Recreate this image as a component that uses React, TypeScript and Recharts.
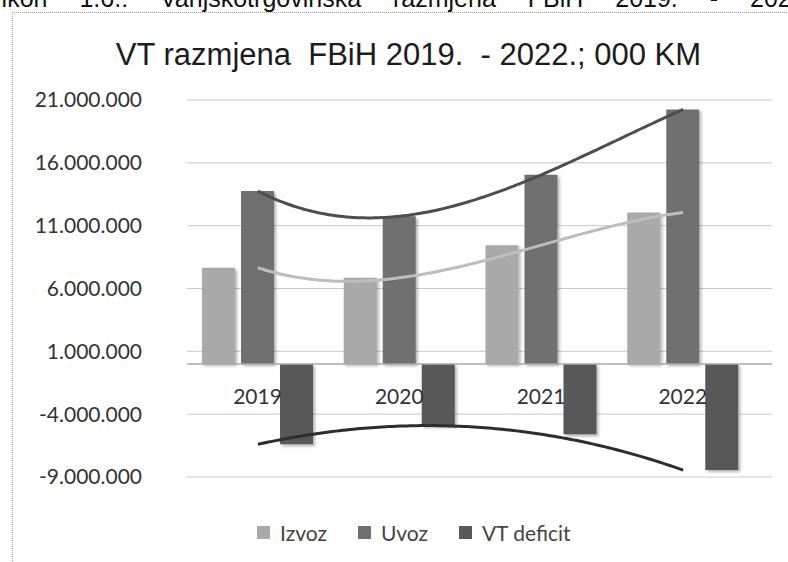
import { ComposedChart, Bar, Line, XAxis, YAxis, CartesianGrid, ReferenceLine, LabelList } from 'recharts'

// vanjskotrgovinska razmjena FBiH, 000 KM
const years = ['2019', '2020', '2021', '2022']
const izvoz = [7650000, 6850000, 9450000, 12050000]
const uvoz = [13750000, 11750000, 15050000, 20250000]
const deficit = [-6400000, -4950000, -5600000, -8450000]
const yTicks = [-9000000, -4000000, 1000000, 6000000, 11000000, 16000000, 21000000]

const seriesNames = ['Izvoz', 'Uvoz', 'VT deficit']
const barColors = ['#a9a9a9', '#707070', '#585858']
const trendColors = ['#bdbdbd', '#4e4e4e', '#2d2d2d']

const data = years.map((year, i) => ({ year, izvoz: izvoz[i], uvoz: uvoz[i], deficit: deficit[i] }))

const fmt = (v: number) => (v < 0 ? '-' : '') + Math.abs(v).toString().replace(/\B(?=(\d{3})+(?!\d))/g, '.')

// Excel-style polynomial trendline (order 3 goes through all 4 points)
const polyCurve = (context: any) => {
  let px: number[] = []
  let py: number[] = []
  return {
    areaStart() {},
    areaEnd() {},
    lineStart() { px = []; py = [] },
    point(x: number, y: number) { px.push(+x); py.push(+y) },
    lineEnd() {
      const n = px.length
      if (!n) return
      const steps = 40 * Math.max(1, n - 1)
      for (let s = 0; s <= steps; s++) {
        const x = px[0] + ((px[n - 1] - px[0]) * s) / steps
        let y = 0
        for (let i = 0; i < n; i++) {
          let l = 1
          for (let j = 0; j < n; j++) if (j !== i) l *= (x - px[j]) / (px[i] - px[j])
          y += py[i] * l
        }
        if (s === 0) context.moveTo(x, y)
        else context.lineTo(x, y)
      }
    },
  }
}

const YearLabel = (props: any) => {
  const vb = props.viewBox ?? props
  const x = vb.x ?? props.x
  const y = vb.y ?? props.y
  const w = vb.width ?? props.width
  const h = vb.height ?? props.height
  return (
    <text x={x + w / 2} y={y + h + 40} textAnchor="middle" fontFamily="Lato" fontSize={21} fill="#333">
      {props.value}
    </text>
  )
}

export default function App() {
  return (
    <div style={{ position: 'absolute', left: 0, top: 0, width: 788, height: 562, overflow: 'hidden', background: '#fff' }}>
      <style>{`.vt-bar .recharts-rectangle { filter: url(#barShadow); }`}</style>
      <div style={{ position: 'absolute', left: 12, top: 12, width: 900, height: 700, borderTop: '1px dotted #999', borderLeft: '1px dotted #999' }} />
      <svg width={788} height={562} style={{ position: 'absolute', left: 0, top: 0 }}>
        <text x={-47} y={6.5} fontFamily="Liberation Sans" fontSize={25} wordSpacing={25} fill="#111" style={{ whiteSpace: 'pre' }}>
          Grafikon 1.6.: Vanjskotrgovinska razmjena FBiH 2019. - 2022. godine
        </text>
        <text x={408.5} y={65} textAnchor="middle" fontFamily="Liberation Sans" fontSize={31} fill="#1c1c1c" style={{ whiteSpace: 'pre' }}>
          VT razmjena  FBiH 2019.  - 2022.; 000 KM
        </text>
      </svg>
      <div style={{ position: 'absolute', left: 0, top: 0 }}>
        <ComposedChart width={788} height={562} data={data} margin={{ top: 100, right: 16, bottom: 85, left: 12 }} barSize={33} barGap={6}>
          <defs>
            <filter id="barShadow" x="-20%" y="-10%" width="150%" height="130%">
              <feDropShadow dx="2" dy="2" stdDeviation="1.5" floodColor="#000" floodOpacity="0.3" />
            </filter>
          </defs>
          <CartesianGrid vertical={false} stroke="#c9c9c9" />
          <XAxis dataKey="year" hide padding={{ left: 0, right: 18 }} />
          <YAxis
            width={175}
            domain={[-9000000, 21000000]}
            ticks={yTicks}
            tickFormatter={fmt}
            axisLine={false}
            tickLine={false}
            tickSize={0}
            tickMargin={45}
            tick={{ fontSize: 21, fontFamily: 'Lato', fill: '#333' }}
            interval={0}
          />
          <ReferenceLine y={0} stroke="#a8a8a8" strokeWidth={1.5} />
          <Bar className="vt-bar" dataKey="izvoz" name={seriesNames[0]} fill={barColors[0]} isAnimationActive={false} />
          <Bar className="vt-bar" dataKey="uvoz" name={seriesNames[1]} fill={barColors[1]} isAnimationActive={false}>
            <LabelList dataKey="year" content={YearLabel} />
          </Bar>
          <Bar className="vt-bar" dataKey="deficit" name={seriesNames[2]} fill={barColors[2]} isAnimationActive={false} />
          <Line dataKey="izvoz" type={polyCurve as any} stroke={trendColors[0]} strokeWidth={3} dot={false} activeDot={false} legendType="none" isAnimationActive={false} />
          <Line dataKey="uvoz" type={polyCurve as any} stroke={trendColors[1]} strokeWidth={3} dot={false} activeDot={false} legendType="none" isAnimationActive={false} />
          <Line dataKey="deficit" type={polyCurve as any} stroke={trendColors[2]} strokeWidth={3} dot={false} activeDot={false} legendType="none" isAnimationActive={false} />
        </ComposedChart>
      </div>
      <div style={{ position: 'absolute', left: 257, top: 520, height: 24, display: 'flex', alignItems: 'center', fontFamily: 'Lato', fontSize: 21, color: '#444' }}>
        {seriesNames.map((name, i) => (
          <div key={name} style={{ display: 'flex', alignItems: 'center', marginRight: 31 }}>
            <div style={{ width: 13, height: 13, background: barColors[i], marginRight: 10 }} />
            <span>{name}</span>
          </div>
        ))}
      </div>
    </div>
  )
}
